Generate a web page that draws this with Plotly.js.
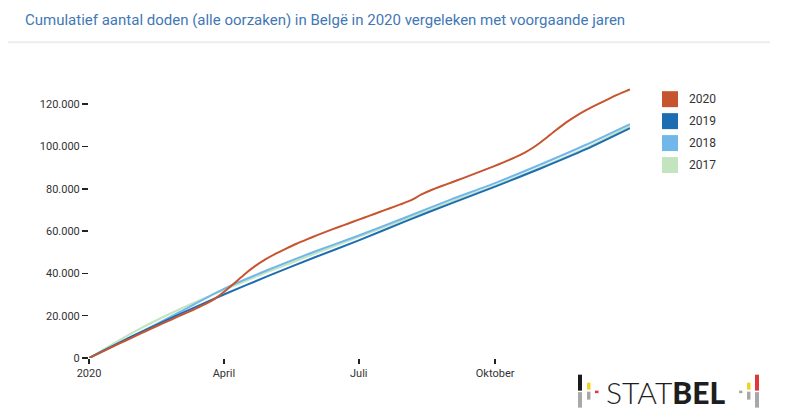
<!DOCTYPE html>
<html>
<head>
<meta charset="utf-8">
<script src="https://cdn.plot.ly/plotly-3.0.1.min.js"></script>
<style>
  html, body { margin: 0; padding: 0; background: #fff; }
  #chart { width: 800px; height: 418px; }
</style>
</head>
<body>
<div id="chart"></div>
<script>
// ---- Data ----
const titleText = "Cumulatief aantal doden (alle oorzaken) in Belgë in 2020 vergeleken met voorgaande jaren";

const seriesNames = ["2020", "2019", "2018", "2017"];
const seriesColors = ["#C6552F", "#1D6DB2", "#72B7EA", "#C2E5C0"];

const weeklyDates2020 = [
  "2020-01-01","2020-01-08","2020-01-15","2020-01-22","2020-01-29",
  "2020-02-05","2020-02-12","2020-02-19","2020-02-26",
  "2020-03-04","2020-03-11","2020-03-18","2020-03-25",
  "2020-04-01","2020-04-08","2020-04-15","2020-04-22","2020-04-29",
  "2020-05-06","2020-05-13","2020-05-20","2020-05-27",
  "2020-06-03","2020-06-10","2020-06-17","2020-06-24",
  "2020-07-01","2020-07-08","2020-07-15","2020-07-22","2020-07-29",
  "2020-08-05","2020-08-12","2020-08-19","2020-08-26",
  "2020-09-02","2020-09-09","2020-09-16","2020-09-23","2020-09-30",
  "2020-10-07","2020-10-14","2020-10-21","2020-10-28",
  "2020-11-04","2020-11-11","2020-11-18","2020-11-25",
  "2020-12-02","2020-12-09","2020-12-16","2020-12-23","2020-12-30","2020-12-31"
];
const deaths2020 = [
  0, 2300, 4700, 7000, 9300,
  11600, 13900, 16100, 18300,
  20500, 22700, 25000, 27600,
  31200, 35300, 39600, 43400, 46600,
  49300, 51700, 54000, 56100,
  58100, 60000, 61800, 63600,
  65400, 67200, 69000, 70800, 72600,
  74500, 77200, 79400, 81300,
  83100, 84900, 86800, 88700, 90600,
  92600, 94700, 97100, 100100,
  103800, 107700, 111400, 114600,
  117400, 119900, 122300, 124600, 126700, 127000
];

const monthlyDates = [
  "2020-01-01","2020-02-01","2020-03-01","2020-04-01","2020-05-01","2020-06-01",
  "2020-07-01","2020-08-01","2020-09-01","2020-10-01","2020-11-01","2020-12-01","2020-12-31"
];
const deaths2019 = [0, 10900, 20400, 30000, 38800, 47500, 55600, 64500, 73000, 81000, 89700, 98600, 108700];
const deaths2018 = [0, 10800, 21300, 32700, 41700, 50200, 57900, 66300, 74900, 82700, 91600, 100700, 110600];
const deaths2017 = [0, 12600, 22700, 32200, 40800, 49200, 57300, 65500, 73800, 81500, 90200, 99200, 109600];

const xTickVals = ["2020-01-01", "2020-04-01", "2020-07-01", "2020-10-01"];
const xTickText = ["2020", "April", "Juli", "Oktober"];
const yTickVals = [0, 20000, 40000, 60000, 80000, 100000, 120000];

// ---- Layout geometry ----
const W = 800, H = 418;
const mL = 89, mR = 170, mT = 82.8, mB = 59.7;
const pw = W - mL - mR, ph = H - mT - mB;
const px = v => (v - mL) / pw;
const py = v => (H - mB - v) / ph;

const xsets = [weeklyDates2020, monthlyDates, monthlyDates, monthlyDates];
const ysets = [deaths2020, deaths2019, deaths2018, deaths2017];

const traces = [];
for (let i = seriesNames.length - 1; i >= 0; i--) {
  traces.push({
    type: "scatter",
    mode: "lines",
    name: seriesNames[i],
    x: xsets[i],
    y: ysets[i],
    line: { color: seriesColors[i], width: 2, shape: "spline", smoothing: 0.6 },
    showlegend: false,
    hoverinfo: "skip"
  });
}

const shapes = [
  // separator under title
  { type: "line", xref: "paper", yref: "paper", x0: px(8), x1: px(770), y0: py(42), y1: py(42),
    line: { color: "#EDEDED", width: 2 } }
];
const annotations = [];

// custom legend (square swatches)
seriesNames.forEach((n, i) => {
  const top = 91 + i * 22;
  shapes.push({ type: "rect", xref: "paper", yref: "paper",
    x0: px(662), x1: px(678), y0: py(top), y1: py(top + 16),
    fillcolor: seriesColors[i], line: { width: 0 } });
  annotations.push({ xref: "paper", yref: "paper", x: px(687), y: py(top + 8),
    xanchor: "left", yanchor: "middle", showarrow: false, text: n,
    font: { family: "Roboto", size: 12, color: "#333" } });
});

// STATBEL logo
function bar(x0, x1, y0, y1, c) {
  shapes.push({ type: "rect", xref: "paper", yref: "paper",
    x0: px(x0), x1: px(x1), y0: py(y0), y1: py(y1), fillcolor: c, line: { width: 0 } });
}
bar(578, 582, 375, 391, "#1a1a1a"); bar(578, 582, 392.5, 408, "#a8a8a8");
bar(587, 590.5, 383, 390, "#F2D21B"); bar(587, 590.5, 392, 400, "#a8a8a8");
bar(595, 598.5, 391, 393.5, "#E0383A");
bar(739, 742.5, 391, 393.5, "#a8a8a8");
bar(747, 750.5, 383, 390, "#F2D21B"); bar(747, 750.5, 392, 400, "#a8a8a8");
bar(755, 759, 375, 391, "#E0383A"); bar(755, 759, 392.5, 408, "#a8a8a8");
annotations.push({ xref: "paper", yref: "paper", x: px(604), y: py(392),
  xanchor: "left", yanchor: "middle", showarrow: false,
  text: "<span style=\"font-weight:300\">STAT</span><span style=\"font-weight:900\">BEL</span>",
  font: { family: "Lato", size: 30, color: "#1e1e1e" } });

const layout = {
  width: W, height: H,
  margin: { l: mL, r: mR, t: mT, b: mB, pad: 0 },
  paper_bgcolor: "#fff", plot_bgcolor: "#fff",
  separators: ",.",
  showlegend: false,
  title: {
    text: titleText,
    xref: "container", yref: "container",
    x: 25 / W, xanchor: "left",
    y: 1 - 20 / H, yanchor: "middle",
    font: { family: "Roboto", size: 15, color: "#3F78B5" }
  },
  xaxis: {
    type: "date",
    range: ["2020-01-01", "2020-12-31"],
    tickmode: "array", tickvals: xTickVals, ticktext: xTickText,
    ticks: "outside", ticklen: 5, tickwidth: 1.5, tickcolor: "#222",
    showgrid: false, zeroline: false, showline: false,
    tickfont: { family: "Roboto", size: 11, color: "#333" }
  },
  yaxis: {
    range: [0, 130000],
    tickmode: "array", tickvals: yTickVals, tickformat: ",d",
    ticks: "outside", ticklen: 6, tickwidth: 1.5, tickcolor: "#222",
    showgrid: false, zeroline: false, showline: false,
    tickfont: { family: "Roboto", size: 11, color: "#333" }
  },
  shapes: shapes,
  annotations: annotations
};

Plotly.newPlot("chart", traces, layout, { displayModeBar: false, staticPlot: true });
</script>
</body>
</html>
